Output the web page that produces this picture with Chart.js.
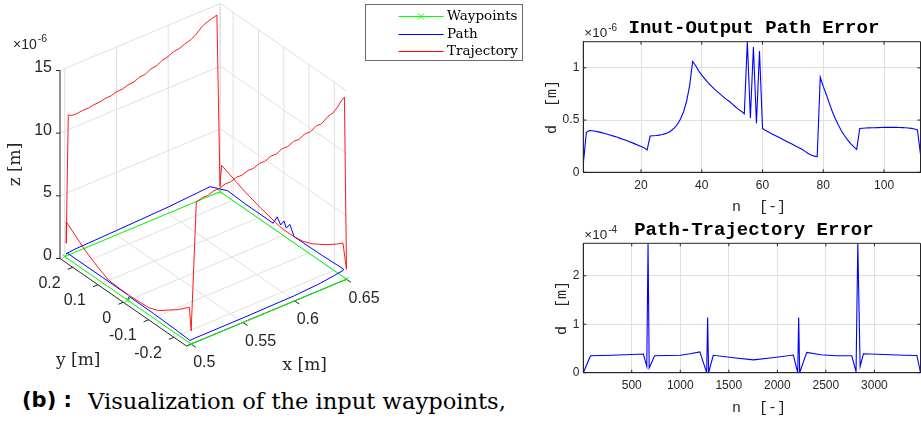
<!DOCTYPE html>
<html lang="en">
  <head>
    <meta charset="UTF-8" />
    <title>Waypoints, path and trajectory</title>
    <script src="https://cdn.jsdelivr.net/npm/chart.js"></script>
    <style>
      body {
        margin: 0;
        width: 921px;
        height: 421px;
        overflow: hidden;
        background: #fff;
        position: relative;
      }
      canvas {
        position: absolute;
      }
      #scene { left: 0; top: 0; }
      #ioChart { left: 540px; top: 0; }
      #ptChart { left: 540px; top: 215px; }
      .caption {
        position: absolute;
        line-height: 1;
        color: #000;
        white-space: nowrap;
      }
      .tag { left: 22px; top: 390px; font-size: 21px; font-family: "DejaVu Sans"; font-weight: bold; }
      .text { left: 88px; top: 390px; font-size: 22.6px; font-family: "DejaVu Serif"; }
    </style>
  </head>
  <body>
    <canvas id="scene" width="540" height="386"></canvas>
    <canvas id="ioChart" width="381" height="215"></canvas>
    <canvas id="ptChart" width="381" height="206"></canvas>
    <span class="caption tag">(b) :</span>
    <span class="caption text">Visualization of the input waypoints,</span>

    <script>
      // ---------- input/output path error, 1e-6 m, one value per path sample n = 1..112
      const ioError = [
        0.08, 0.38, 0.4, 0.398, 0.393, 0.387, 0.38, 0.372, 0.364, 0.355,
        0.346, 0.337, 0.327, 0.317, 0.306, 0.295, 0.284, 0.272, 0.26, 0.248,
        0.236, 0.213, 0.347, 0.35, 0.352, 0.356, 0.362, 0.37, 0.382, 0.4,
        0.425, 0.46, 0.51, 0.58, 0.68, 0.83, 1.06, 1.02, 0.97, 0.93,
        0.895, 0.86, 0.83, 0.8, 0.775, 0.75, 0.725, 0.7, 0.68, 0.655,
        0.63, 0.605, 0.585, 0.56, 1.25, 0.52, 1.2, 0.47, 1.16, 0.42,
        0.4, 0.385, 0.37, 0.355, 0.34, 0.325, 0.31, 0.295, 0.28, 0.265,
        0.25, 0.235, 0.22, 0.2, 0.18, 0.165, 0.155, 0.15, 0.91, 0.82,
        0.745, 0.66, 0.58, 0.51, 0.45, 0.395, 0.35, 0.31, 0.275, 0.245,
        0.22, 0.42, 0.422, 0.424, 0.425, 0.426, 0.427, 0.428, 0.429, 0.43,
        0.43, 0.43, 0.43, 0.43, 0.429, 0.428, 0.426, 0.424, 0.42, 0.415,
        0.405, 0.17,
      ];
      const ioTicksX = [20, 40, 60, 80, 100];
      const ioTicksY = [0, 0.5, 1];

      // ---------- path/trajectory error, 1e-4 m, breakpoints over the sample index n
      const ptN = [
        1, 75, 300, 620, 655, 668, 680, 735, 1000, 1100, 1202, 1272, 1282, 1292,
        1340, 1550, 1752, 1950, 2165, 2210, 2220, 2230, 2303, 2450, 2600, 2767,
        2811, 2829, 2853, 2887, 3100, 3300, 3438, 3475,
      ];
      const ptError = [
        0, 0.35, 0.36, 0.385, 0.13, 2.67, 0.1, 0.35, 0.36, 0.39, 0.43, 0, 1.14, 0,
        0.36, 0.31, 0.265, 0.31, 0.365, 0, 1.14, 0, 0.42, 0.37, 0.35, 0.35,
        0.02, 2.67, 0.13, 0.39, 0.375, 0.36, 0.355, 0,
      ];
      const ptTicksX = [500, 1000, 1500, 2000, 2500, 3000];
      const ptTicksY = [0, 1, 2];

      // ---------- 3D scene: x, y in m, z in 1e-6 m
      const wpX = [0.5, 0.5, 0.65, 0.65, 0.5, 0.5];
      const wpY = [0, -0.25, -0.25, 0.25, 0.25, 0];
      const wpZ = [0, 0, 0, 0, 0, 0];

      const pathX = [
        0.5, 0.5, 0.5, 0.5, 0.5, 0.503, 0.55, 0.6, 0.625, 0.64, 0.648, 0.6505,
        0.65, 0.65, 0.65, 0.65, 0.65, 0.65, 0.65, 0.65, 0.65, 0.65, 0.6386,
        0.6, 0.55, 0.51, 0.501, 0.5, 0.5, 0.5,
      ];
      const pathY = [
        0, -0.005, -0.1, -0.2, -0.245, -0.25, -0.25, -0.25, -0.25, -0.249, -0.245,
        -0.235, -0.15, -0.043, -0.026, -0.012, -0.003, 0.01, 0.024, 0.04, 0.15,
        0.22, 0.2425, 0.25, 0.25, 0.25, 0.248, 0.24, 0.1, 0,
      ];
      const pathZ = [
        0.1, 0.38, 0.36, 0.28, 0.22, 0.35, 0.36, 0.42, 0.55, 0.7, 0.7, 0.6,
        0.55, 0.5, 1.25, 0.75, 1.2, 0.7, 1.15, 0.42, 0.42, 0.5, 0.9, 0.5, 0.35,
        0.25, 0.22, 0.42, 0.43, 0.43,
      ];

      const trajX = [
        0.5, 0.5, 0.5, 0.5, 0.5, 0.5, 0.5, 0.5, 0.5, 0.505,
        0.511, 0.516, 0.522, 0.527, 0.533, 0.538, 0.544, 0.549, 0.555, 0.56,
        0.566, 0.571, 0.577, 0.582, 0.588, 0.593, 0.599, 0.604, 0.61, 0.615,
        0.621, 0.626, 0.632, 0.637, 0.641, 0.645, 0.648, 0.6505,
        0.65, 0.65, 0.65, 0.65, 0.65, 0.65, 0.65, 0.65, 0.65, 0.65, 0.65,
        0.65, 0.647,
        0.643, 0.638, 0.633, 0.627, 0.622, 0.616, 0.611, 0.605, 0.6, 0.594,
        0.589, 0.583, 0.578, 0.572, 0.567, 0.561, 0.556, 0.55, 0.545, 0.539,
        0.534, 0.528, 0.523, 0.517, 0.512, 0.507, 0.5035,
        0.5015, 0.5, 0.5, 0.5, 0.5, 0.5, 0.5,
      ];
      const trajY = [
        0, -0.04, -0.083, -0.12, -0.163, -0.2, -0.23, -0.243, -0.25, -0.25,
        -0.25, -0.25, -0.25, -0.25, -0.25, -0.25, -0.25, -0.25, -0.25, -0.25,
        -0.25, -0.25, -0.25, -0.25, -0.25, -0.25, -0.25, -0.25, -0.25, -0.25,
        -0.25, -0.25, -0.25, -0.25, -0.25, -0.25, -0.25, -0.248,
        -0.236, -0.21, -0.17, -0.116, -0.076, -0.043, 0, 0.03, 0.09, 0.15, 0.2436,
        0.25, 0.25,
        0.25, 0.25, 0.25, 0.25, 0.25, 0.25, 0.25, 0.25, 0.25, 0.25,
        0.25, 0.25, 0.25, 0.25, 0.25, 0.25, 0.25, 0.25, 0.25, 0.25,
        0.25, 0.25, 0.25, 0.25, 0.25, 0.25, 0.25,
        0.25, 0.2436, 0.17, 0.12, 0.077, 0.0236, 0,
      ];
      const trajZ = [
        0.46, 0.5, 0.57, 0.85, 1.5, 2.05, 2.6, 2.83, 1.06, 11.15,
        11.32, 11.3, 11.48, 11.46, 11.64, 11.62, 11.8, 11.78, 11.96, 11.94,
        12.14, 12.12, 12.34, 12.32, 12.56, 12.54, 12.76, 12.74, 12.98, 12.96,
        13.24, 13.24, 13.6, 13.72, 14.0, 14.4, 14.6, 0.75,
        2.69, 2.24, 1.64, 0.95, 0.61, 0.51, 0.48, 0.62, 0.95, 1.37, 2.2,
        0.42, 14.2,
        14.1, 13.98, 13.8, 13.36, 13.1, 12.96, 12.78, 12.72, 12.52, 12.4,
        12.16, 12.1, 11.86, 11.82, 11.62, 11.58, 11.44, 11.42, 11.28, 11.26,
        11.16, 11.14, 11.06, 11.06, 11.0, 11.02, 11.18,
        1.0, 2.86, 1.64, 1.0, 0.55, 0.47, 0.46,
      ];

      const ticksX3 = [0.5, 0.55, 0.6, 0.65];
      const ticksY3 = [-0.2, -0.1, 0, 0.1, 0.2];
      const ticksZ3 = [0, 5, 10, 15];

      const ink = "#262626";
      const gridColor = "#e0e0e0";

      // ---------- fixed-view projection of the 3D plot box onto the canvas
      const lim = { x: [0.4955, 0.6505], y: [-0.25, 0.25], z: [0, 15] };
      const boxOrigin = [186.5, 346]; // corner (xmin, ymin, zmin)
      const edgeX = [160.5, -67];
      const edgeY = [-126.5, -87.5];
      const edgeZ = [0, -188];

      function project(x, y, z) {
        const u = (x - lim.x[0]) / (lim.x[1] - lim.x[0]);
        const v = (y - lim.y[0]) / (lim.y[1] - lim.y[0]);
        const w = (z - lim.z[0]) / (lim.z[1] - lim.z[0]);
        return {
          x: boxOrigin[0] + u * edgeX[0] + v * edgeY[0] + w * edgeZ[0],
          y: boxOrigin[1] + u * edgeX[1] + v * edgeY[1] + w * edgeZ[1],
        };
      }

      const toPoints = (xs, ys, zs) => xs.map((x, i) => project(x, ys[i], zs[i]));

      // box, grid, axes and labels of the 3D view
      const scenePlugin = {
        id: "scene3d",
        beforeDatasetsDraw(chart) {
          const ctx = chart.ctx;
          const sx = chart.scales.x;
          const sy = chart.scales.y;
          const P = (x, y, z) => {
            const p = project(x, y, z);
            return [sx.getPixelForValue(p.x), sy.getPixelForValue(p.y)];
          };
          const seg = (a, b) => {
            ctx.moveTo(a[0], a[1]);
            ctx.lineTo(b[0], b[1]);
          };
          const [x0, x1] = lim.x;
          const [y0, y1] = lim.y;
          const [z0, z1] = lim.z;

          ctx.save();
          ctx.lineWidth = 1;
          ctx.strokeStyle = gridColor;
          ctx.beginPath();
          ticksX3.forEach((x) => {
            seg(P(x, y0, z0), P(x, y1, z0));
            seg(P(x, y1, z0), P(x, y1, z1));
          });
          ticksY3.forEach((y) => {
            seg(P(x0, y, z0), P(x1, y, z0));
            seg(P(x1, y, z0), P(x1, y, z1));
          });
          ticksZ3.forEach((z) => {
            seg(P(x0, y1, z), P(x1, y1, z));
            seg(P(x1, y1, z), P(x1, y0, z));
          });
          seg(P(x1, y1, z0), P(x1, y1, z1));
          ctx.stroke();

          // axis lines and outward ticks
          ctx.strokeStyle = ink;
          ctx.beginPath();
          seg(P(x0, y1, z0), P(x0, y1, z1));
          seg(P(x0, y1, z0), P(x0, y0, z0));
          seg(P(x0, y0, z0), P(x1, y0, z0));
          ticksX3.forEach((x) => seg(P(x, y0, z0), P(x, y0 - 0.018, z0)));
          ticksY3.forEach((y) => seg(P(x0, y, z0), P(x0 - 0.0048, y, z0)));
          ticksZ3.forEach((z) => {
            const p = P(x0, y1, z);
            seg(p, [p[0] - 4, p[1]]);
          });
          ctx.stroke();

          ctx.fillStyle = ink;
          ctx.font = '16px "Liberation Sans"';
          ctx.textBaseline = "middle";
          ctx.textAlign = "left";
          ticksX3.forEach((x) => {
            const p = P(x, y0, z0);
            ctx.fillText(String(x), p[0] + 2, p[1] + 19);
          });
          ctx.textAlign = "right";
          ticksY3.forEach((y) => {
            const p = P(x0, y, z0);
            ctx.fillText(String(y), p[0] - 12, p[1] + 16);
          });
          ticksZ3.forEach((z) => {
            const p = P(x0, y1, z);
            ctx.fillText(String(z), p[0] - 8, p[1] - 3);
          });

          // exponent of the z axis
          const zTop = P(x0, y1, z1);
          ctx.textAlign = "left";
          ctx.font = '14px "Liberation Sans"';
          ctx.fillText("\u00d710", zTop[0] - 47, zTop[1] - 25);
          const w = ctx.measureText("\u00d710").width;
          ctx.font = '10.5px "Liberation Sans"';
          ctx.fillText("-6", zTop[0] - 47 + w + 1, zTop[1] - 31);

          // axis labels
          ctx.font = '17px "DejaVu Serif"';
          ctx.textAlign = "center";
          const xm = P((x0 + x1) / 2, y0, z0);
          ctx.fillText("x [m]", xm[0] + 38, xm[1] + 53);
          const ym = P(x0, (y0 + y1) / 2, z0);
          ctx.fillText("y [m]", ym[0] - 45, ym[1] + 58);
          const zm = P(x0, y1, (z0 + z1) / 2);
          ctx.translate(zm[0] - 44, zm[1]);
          ctx.rotate(-Math.PI / 2);
          ctx.fillText("z [m]", 0, 0);
          ctx.restore();
        },
        afterDraw(chart) {
          // legend box in the upper right corner of the 3D axes
          const ctx = chart.ctx;
          const left = 365.5, top = 4.5, w = 157, h = 56;
          ctx.save();
          ctx.fillStyle = "#fff";
          ctx.fillRect(left, top, w, h);
          ctx.strokeStyle = "#6a6a6a";
          ctx.lineWidth = 1;
          ctx.strokeRect(left, top, w, h);
          ctx.font = '13.5px "DejaVu Serif"';
          ctx.textBaseline = "middle";
          ctx.textAlign = "left";
          const order = [2, 1, 0];
          order.forEach((di, row) => {
            const ds = chart.data.datasets[di];
            const y = Math.round(top + 11.5 + row * 17.5) + 0.5;
            ctx.strokeStyle = ds.borderColor;
            ctx.lineWidth = 1;
            ctx.beginPath();
            ctx.moveTo(left + 33, y);
            ctx.lineTo(left + 78, y);
            if (ds.pointRadius > 0) {
              const cx = left + 55.5, r = 3;
              ctx.moveTo(cx - r, y - r);
              ctx.lineTo(cx + r, y + r);
              ctx.moveTo(cx - r, y + r);
              ctx.lineTo(cx + r, y - r);
            }
            ctx.stroke();
            ctx.fillStyle = "#000";
            ctx.fillText(ds.label, left + 81.5, y);
          });
          ctx.restore();
        },
      };

      new Chart(document.getElementById("scene"), {
        type: "scatter",
        data: {
          datasets: [
            {
              label: "Trajectory",
              data: toPoints(trajX, trajY, trajZ),
              showLine: true,
              borderColor: "#ff0000",
              borderWidth: 0.9,
              pointRadius: 0,
              order: 0,
            },
            {
              label: "Path",
              data: toPoints(pathX, pathY, pathZ),
              showLine: true,
              borderColor: "#0000ff",
              borderWidth: 1,
              pointRadius: 0,
              order: 1,
            },
            {
              label: "Waypoints",
              data: toPoints(wpX, wpY, wpZ),
              showLine: true,
              borderColor: "#00ff00",
              backgroundColor: "#00ff00",
              borderWidth: 1,
              pointStyle: "crossRot",
              pointRadius: 3,
              order: 2,
            },
          ],
        },
        options: {
          responsive: false,
          animation: false,
          devicePixelRatio: 1,
          layout: { padding: 0, autoPadding: false },
          plugins: { legend: { display: false }, tooltip: { enabled: false } },
          scales: {
            x: { type: "linear", min: 0, max: 540, display: false },
            y: { type: "linear", min: 0, max: 386, reverse: true, display: false },
          },
        },
        plugins: [scenePlugin],
      });

      // ---------- 2D error plots: box, inward ticks, title, labels, exponent
      const matlabAxes = {
        id: "matlabAxes",
        afterDatasetsDraw(chart, args, opts) {
          const ctx = chart.ctx;
          const a = chart.chartArea;
          const sx = chart.scales.x;
          const sy = chart.scales.y;
          ctx.save();
          ctx.strokeStyle = ink;
          ctx.lineWidth = 1;
          ctx.beginPath();
          ctx.rect(a.left, a.top, a.right - a.left, a.bottom - a.top);
          sx.ticks.forEach((t) => {
            const x = sx.getPixelForValue(t.value);
            ctx.moveTo(x, a.bottom);
            ctx.lineTo(x, a.bottom - 3);
            ctx.moveTo(x, a.top);
            ctx.lineTo(x, a.top + 3);
          });
          sy.ticks.forEach((t) => {
            const y = sy.getPixelForValue(t.value);
            ctx.moveTo(a.left, y);
            ctx.lineTo(a.left + 3, y);
            ctx.moveTo(a.right, y);
            ctx.lineTo(a.right - 3, y);
          });
          ctx.stroke();

          const cx = (a.left + a.right) / 2;
          ctx.fillStyle = "#000";
          ctx.textAlign = "center";
          ctx.textBaseline = "middle";
          ctx.font = 'bold 19px "Liberation Mono"';
          ctx.fillText(opts.title, cx + 2, a.top - 13);

          ctx.fillStyle = ink;
          ctx.font = '15px "Liberation Mono"';
          ctx.fillText(opts.xLabel, cx + 7, a.bottom + 35);

          ctx.font = '12px "Liberation Sans"';
          const widest = Math.max(
            ...sy.ticks.map((t) => ctx.measureText(t.label).width)
          );
          ctx.save();
          ctx.font = '15px "Liberation Mono"';
          ctx.translate(a.left - 4 - widest - 11, (a.top + a.bottom) / 2);
          ctx.rotate(-Math.PI / 2);
          ctx.fillText(opts.yLabel, 0, 0);
          ctx.restore();

          ctx.textAlign = "left";
          ctx.font = '13.5px "Liberation Sans"';
          ctx.fillText("\u00d710", a.left + 1, a.top - 8);
          const w = ctx.measureText("\u00d710").width;
          ctx.font = '10px "Liberation Sans"';
          ctx.fillText(opts.exponent, a.left + 2 + w, a.top - 13);
          ctx.restore();
        },
      };

      function errorChart(canvasId, cfg) {
        const tickFont = { family: "Liberation Sans", size: 12 };
        return new Chart(document.getElementById(canvasId), {
          type: "scatter",
          data: {
            datasets: [
              {
                data: cfg.n.map((n, i) => ({ x: n, y: cfg.d[i] })),
                showLine: true,
                borderColor: "#0000ff",
                borderWidth: 1.1,
                pointRadius: 0,
                tension: 0,
              },
            ],
          },
          options: {
            responsive: false,
            animation: false,
            devicePixelRatio: 1,
            layout: {
              padding: { top: cfg.top, right: 0.5, left: 0, bottom: 0 },
              autoPadding: false,
            },
            plugins: {
              legend: { display: false },
              tooltip: { enabled: false },
              matlabAxes: {
                title: cfg.title,
                xLabel: "n  [-]",
                yLabel: "d  [m]",
                exponent: cfg.exponent,
              },
            },
            scales: {
              x: {
                type: "linear",
                min: cfg.xMin,
                max: cfg.xMax,
                afterBuildTicks: (s) => {
                  s.ticks = cfg.ticksX.map((v) => ({ value: v }));
                },
                afterFit: (s) => {
                  s.height = cfg.bottomSpace;
                },
                grid: { color: gridColor, drawTicks: false },
                border: { display: true, color: ink },
                ticks: {
                  padding: 6,
                  color: ink,
                  font: tickFont,
                  maxRotation: 0,
                  autoSkip: false,
                  callback: (v) => String(v),
                },
              },
              y: {
                type: "linear",
                min: 0,
                max: cfg.yMax,
                afterBuildTicks: (s) => {
                  s.ticks = cfg.ticksY.map((v) => ({ value: v }));
                },
                afterFit: (s) => {
                  s.width = 43.3;
                },
                grid: { color: gridColor, drawTicks: false },
                border: { display: true, color: ink },
                ticks: {
                  padding: 4,
                  color: ink,
                  font: tickFont,
                  autoSkip: false,
                  callback: (v) => String(v),
                },
              },
            },
          },
          plugins: [matlabAxes],
        });
      }

      errorChart("ioChart", {
        title: "Inut-Output Path Error",
        exponent: "-6",
        n: ioError.map((_, i) => i + 1),
        d: ioError,
        xMin: 1,
        xMax: 112,
        yMax: 1.25,
        ticksX: ioTicksX,
        ticksY: ioTicksY,
        top: 41.7,
        bottomSpace: 42.7,
      });

      errorChart("ptChart", {
        title: "Path-Trajectory Error",
        exponent: "-4",
        n: ptN,
        d: ptError,
        xMin: 1,
        xMax: 3475,
        yMax: 2.67,
        ticksX: ptTicksX,
        ticksY: ptTicksY,
        top: 28.3,
        bottomSpace: 48.3,
      });
    </script>
  </body>
</html>
